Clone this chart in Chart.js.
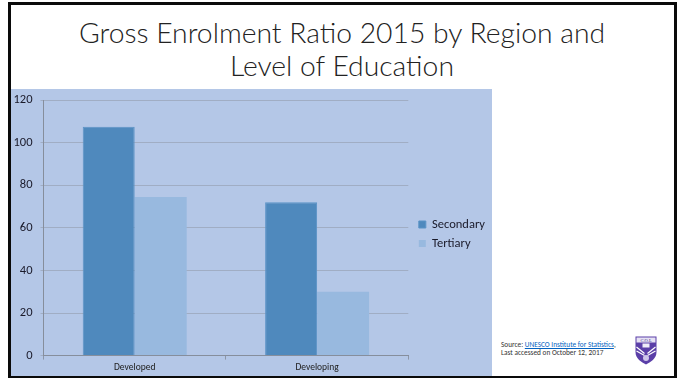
<!DOCTYPE html>
<html>
<head>
<meta charset="utf-8">
<script src="https://cdn.jsdelivr.net/npm/chart.js@4/dist/chart.umd.min.js"></script>
<style>
  html, body { margin: 0; padding: 0; background: #fff; width: 683px; height: 378px; overflow: hidden; }
  #slide { position: absolute; left: 8px; top: 2px; width: 669px; height: 376px; border: 3px solid #0a0a0a; border-bottom-width: 2px; box-sizing: border-box; background: #fff; }
  #title { position: absolute; left: 11px; top: 16px; width: 662px; text-align: center; font: 300 28.300px/33px Lato, Carlito, sans-serif; color: #222; }
  #wrap { position: absolute; left: 11px; top: 89px; width: 481px; height: 287px; }
  #source { position: absolute; left: 501px; top: 341px; font: 7.300px/8px Carlito, "Open Sans", sans-serif; color: #333; white-space: nowrap; }
  #source a { color: #0563c1; text-decoration: underline; }
  #crest { position: absolute; left: 635px; top: 336px; width: 22px; height: 29px; }
</style>
</head>
<body>
<div id="slide"></div>
<div id="title">Gross Enrolment Ratio 2015 by Region and<br>Level of Education</div>
<div id="wrap"><canvas id="chart" width="481" height="287"></canvas></div>
<div id="source">Source: <a>UNESCO Institute for Statistics</a>,<br>Last accessed on October 12, 2017</div>
<svg id="crest" viewBox="0 0 22 29">
  <path d="M0.500 0.500H21.500V16C21.500 23 15.500 26 11 28.500C6.500 26 0.500 23 0.500 16Z" fill="#5b3fa8"/>
  <rect x="1.500" y="1.500" width="19" height="5" fill="#e6e1f4"/>
  <text x="11" y="5.700" font-size="4.500" font-family="Liberation Serif" text-anchor="middle" fill="#3a2a80">C.O.L</text>
  <rect x="7.500" y="7.500" width="7" height="4" fill="#efecf8"/>
  <path d="M1.500 11L9.500 17.500M20.500 11L12.500 17.500M1.500 15L9.500 19.500M20.500 15L12.500 19.500" stroke="#fff" stroke-width="1.200"/>
  <circle cx="11" cy="22" r="3" fill="#cfc6ea"/>
</svg>
<script>
const categories = ["Developed", "Developing"];
const secondary = [107.5, 72];
const tertiary = [74.5, 30];
const yTicks = [0, 20, 40, 60, 80, 100, 120];

// Paints the panel behind the whole chart.
const panelFill = {
  id: "panelFill",
  beforeDraw(chart) {
    const c = chart.ctx;
    c.save();
    c.fillStyle = "#b4c7e7";
    c.fillRect(0, 0, chart.width, chart.height);
    c.restore();
  }
};

// Nudges the legend block after layout, leaving the plot area where it is.
const legendNudge = {
  id: "legendNudge",
  afterLayout(chart) {
    chart.legend.left += 4;
    chart.legend.right += 4;
    chart.legend.top -= 4;
    chart.legend.bottom -= 4;
  }
};

new Chart(document.getElementById("chart"), {
  type: "bar",
  data: {
    labels: categories,
    datasets: [
      { label: "Secondary", data: secondary, backgroundColor: "#4f89bd", borderColor: "#5b93c6", borderWidth: 1, barPercentage: 1, categoryPercentage: 0.57 },
      { label: "Tertiary", data: tertiary, backgroundColor: "#98b9df", borderColor: "#98b9df", borderWidth: 0, barPercentage: 1, categoryPercentage: 0.57 }
    ]
  },
  plugins: [panelFill, legendNudge],
  options: {
    responsive: false,
    animation: false,
    layout: { padding: { left: 0, top: 11, right: 1, bottom: 0 } },
    plugins: {
      title: { display: false },
      tooltip: { enabled: false },
      legend: {
        position: "right",
        align: "center",
        labels: {
          boxWidth: 7,
          boxHeight: 7,
          padding: 6.500,
          color: "#1a1a2a",
          font: { family: "Carlito, 'Open Sans', sans-serif", size: 12.500 }
        }
      }
    },
    scales: {
      x: {
        grid: { display: true, drawOnChartArea: false, drawTicks: true, tickLength: 4, color: "#8c96a8" },
        border: { color: "#868e9c", width: 1 },
        ticks: { color: "#222", padding: 2.500, font: { family: "Carlito, 'Open Sans', sans-serif", size: 9.500 } }
      },
      y: {
        min: 0,
        max: 120,
        afterBuildTicks(axis) { axis.ticks = yTicks.map(v => ({ value: v })); },
        afterFit(axis) { axis.width = 32.500; axis.paddingTop = 0; axis.paddingBottom = 0; },
        grid: { color: "#a0adc4", tickLength: 3 },
        border: { color: "#868e9c", width: 1 },
        ticks: { color: "#1a1a2a", padding: 8, font: { family: "Carlito, 'Open Sans', sans-serif", size: 12.500 } }
      }
    }
  }
});
</script>
</body>
</html>
